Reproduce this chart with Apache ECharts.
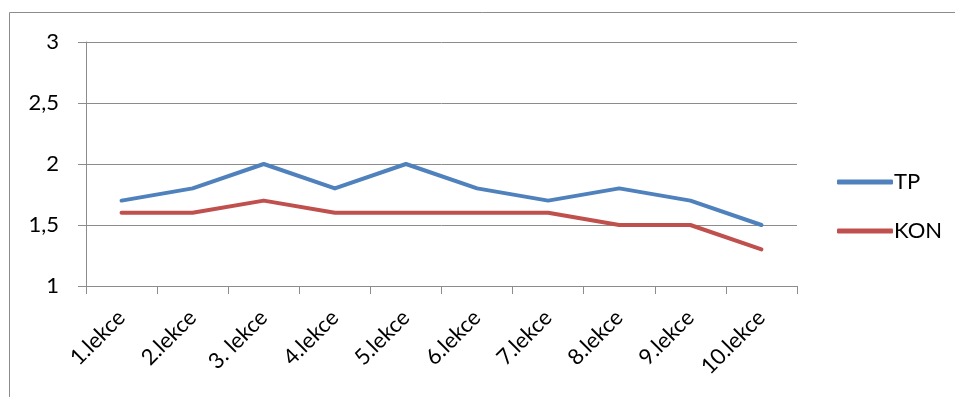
<!DOCTYPE html>
<html>
<head>
<meta charset="utf-8">
<script src="https://cdn.jsdelivr.net/npm/echarts@6/dist/echarts.min.js"></script>
<style>
  html, body { margin: 0; padding: 0; background: #fff; }
  #chart { width: 955px; height: 397px; }
</style>
</head>
<body>
<div id="chart"></div>
<script>
// Lesson categories and average ratings per group
const categories = ['1.lekce', '2.lekce', '3. lekce', '4.lekce', '5.lekce', '6.lekce', '7.lekce', '8.lekce', '9.lekce', '10.lekce'];
const tpValues = [1.7, 1.8, 2.0, 1.8, 2.0, 1.8, 1.7, 1.8, 1.7, 1.5];
const konValues = [1.6, 1.6, 1.7, 1.6, 1.6, 1.6, 1.6, 1.5, 1.5, 1.3];

const font = 'Lato, "Open Sans", sans-serif';
const gridColor = '#8c8c8c';

const chart = echarts.init(document.getElementById('chart'), null, { renderer: 'canvas' });
chart.setOption({
  animation: false,
  backgroundColor: '#fff',
  graphic: [{
    type: 'rect',
    shape: { x: 9.5, y: 12.5, width: 960, height: 400 },
    style: { fill: 'none', stroke: '#8c8c8c', lineWidth: 1 },
    silent: true
  }],
  grid: { left: 86, right: 158, top: 42, bottom: 111, containLabel: false },
  legend: {
    orient: 'vertical',
    left: 837,
    top: 171,
    padding: 0,
    itemGap: 27,
    itemWidth: 56,
    itemHeight: 5,
    icon: 'roundRect',
    textStyle: { fontFamily: font, fontSize: 22, color: '#000', padding: [0, 0, 0, -4] },
    data: ['TP', 'KON']
  },
  xAxis: {
    type: 'category',
    data: categories,
    boundaryGap: true,
    axisLine: { lineStyle: { color: gridColor, width: 1 } },
    axisTick: { show: true, length: 8, inside: false, lineStyle: { color: gridColor } },
    axisLabel: { rotate: 45, fontFamily: font, fontSize: 22, color: '#000', margin: 28 }
  },
  yAxis: {
    type: 'value',
    min: 1,
    max: 3,
    interval: 0.5,
    axisLine: { show: true, lineStyle: { color: gridColor, width: 1 } },
    axisTick: { show: true, length: 8, lineStyle: { color: gridColor } },
    splitLine: { show: true, lineStyle: { color: gridColor, width: 1 } },
    axisLabel: {
      fontFamily: font, fontSize: 22, color: '#000', margin: 27,
      formatter: v => String(v).replace('.', ',')
    }
  },
  series: [
    {
      name: 'TP', type: 'line', data: tpValues,
      showSymbol: false, symbol: 'none',
      lineStyle: { color: '#4F81BD', width: 4, cap: 'round', join: 'round' },
      itemStyle: { color: '#4F81BD' }
    },
    {
      name: 'KON', type: 'line', data: konValues,
      showSymbol: false, symbol: 'none',
      lineStyle: { color: '#C0504D', width: 4, cap: 'round', join: 'round' },
      itemStyle: { color: '#C0504D' }
    }
  ]
});
</script>
</body>
</html>
